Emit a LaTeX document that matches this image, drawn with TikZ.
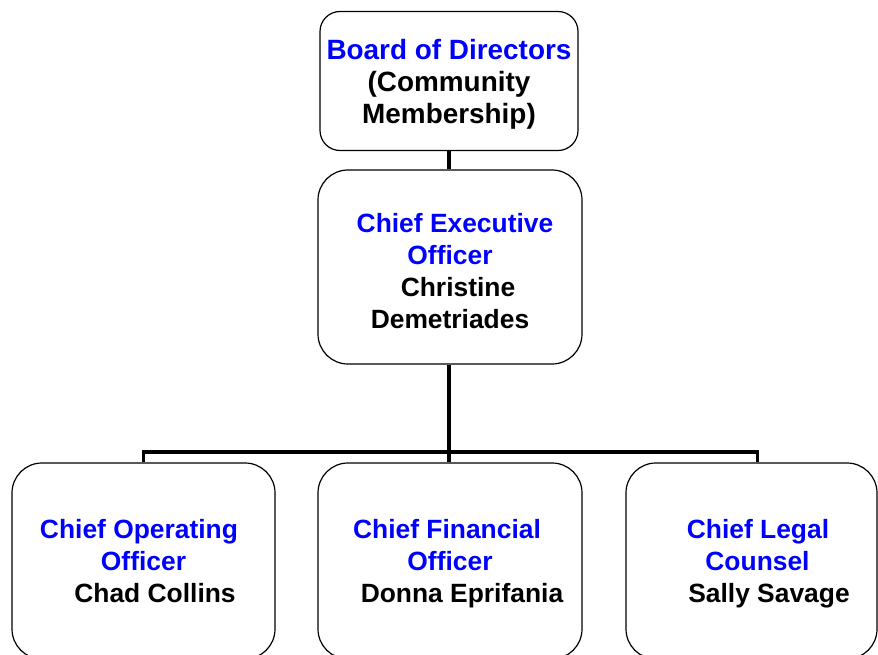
\documentclass[tikz,border=0pt]{standalone}
\usepackage{fontspec}
\setmainfont{Liberation Sans}
\usepackage{tikz}

\newcommand{\nodepth}[1]{\raisebox{0pt}[\height][0pt]{#1}}

\begin{document}
\begin{tikzpicture}[x=1bp, y=-1bp,
    post/.style={draw, line width=1.2bp, rounded corners=30bp, align=center, inner sep=0pt,
        minimum height=196bp, font=\fontsize{26.5}{32}\selectfont\bfseries},
    link/.style={line width=3.5bp}]
\useasboundingbox (0,0) rectangle (878,655);
\node[post, minimum width=258bp, minimum height=139bp, rounded corners=20bp,
    font=\fontsize{28}{32}\selectfont\bfseries] (board) at (449,81)
    {\rule{0pt}{27bp}\textcolor{blue}{Board of Directors}\\(Community\\Membership)};
\node[post, minimum width=264bp, minimum height=194bp] (ceo) at (450,267)
    {\rule{0pt}{27bp}\textcolor{blue}{\hspace*{10bp}Chief Executive}\\\textcolor{blue}{Officer}\\\hspace*{16bp}Christine\\Demetriades};
\node[post, minimum width=263bp] (coo) at (143.5,561)
    {\textcolor{blue}{Chief Operating\hspace*{9bp}}\\\textcolor{blue}{Officer}\\\hspace*{23bp}Chad Collins};
\node[post, minimum width=264bp] (cfo) at (450,561)
    {\textcolor{blue}{Chief Financial\hspace*{6bp}}\\\textcolor{blue}{Officer}\\\hspace*{24bp}\nodepth{Donna Eprifania}};
\node[post, minimum width=251bp] (clc) at (751.5,561)
    {\textcolor{blue}{\hspace*{13bp}Chief Legal}\\\textcolor{blue}{\hspace*{12bp}Counsel}\\\hspace*{35bp}\nodepth{Sally Savage}};
\coordinate (bar) at (449,452);
\draw[link] (board.south) -- (board.south |- ceo.north);
\draw[link] (bar |- ceo.south) -- (bar |- cfo.north);
\draw[link] (coo.north) |- (bar) -| ([xshift=6bp]clc.north);
\end{tikzpicture}
\end{document}
